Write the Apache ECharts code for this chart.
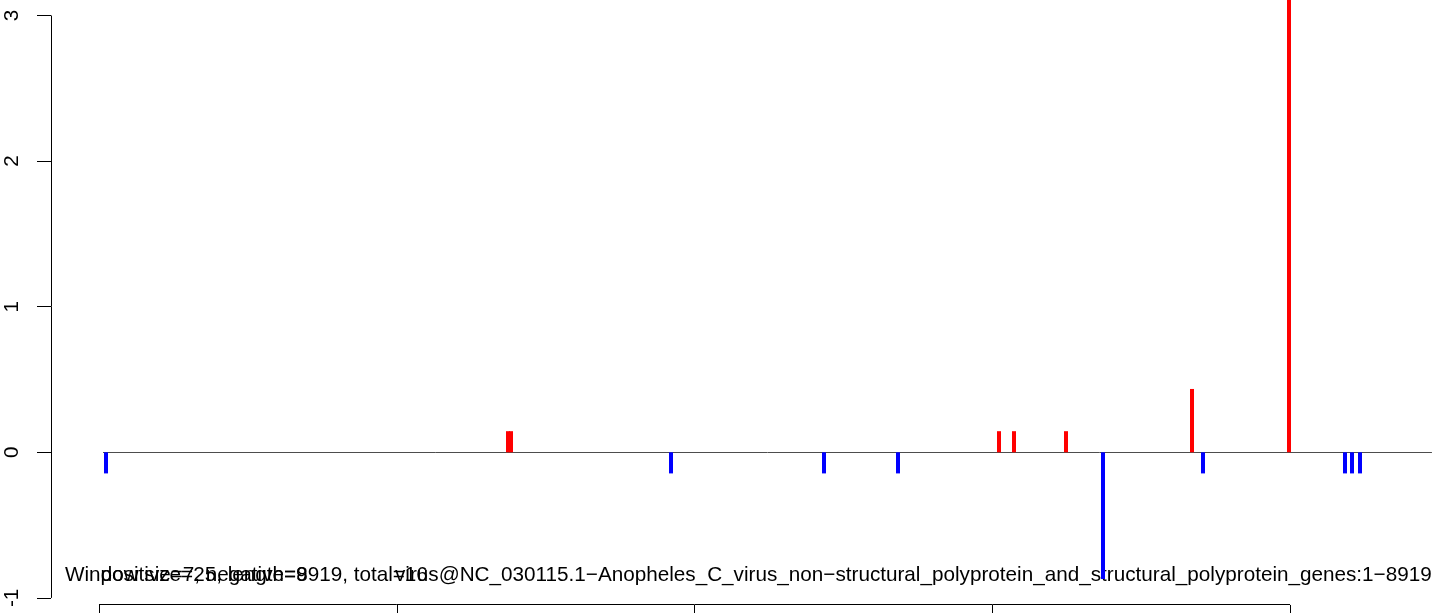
<!DOCTYPE html>
<html><head><meta charset="utf-8">
<script src="https://cdn.jsdelivr.net/npm/echarts@6/dist/echarts.min.js"></script>
<style>html,body{margin:0;padding:0;background:#fff}#c{width:1444px;height:613px}</style>
</head><body><div id="c"></div><script>
// ---- data ----
const posPositions = [2747, 2767, 6045, 6146, 6495, 7341, 7993];
const posValues    = [0.145, 0.145, 0.145, 0.145, 0.145, 0.435, 3.48];
const negPositions = [47, 3842, 4870, 5367, 6744, 7415, 8369, 8416, 8470];
const negValues    = [-0.145, -0.145, -0.145, -0.145, -0.87, -0.145, -0.145, -0.145, -0.145];
const yTicks = [-1, 0, 1, 2, 3];
const xTicks = [0, 2000, 4000, 6000, 8000];
const zeroLine = [27, 8953];
const infoWindow = "Window size=25, length=8919, total=16";
const infoCounts = "positive=7, negative=9";
const infoName = "virus@NC_030115.1\u2212Anopheles_C_virus_non\u2212structural_polyprotein_and_structural_polyprotein_genes:1\u22128919";

// ---- layout ----
const X_MIN = -322.4, X_MAX = 9034;
const Y_MIN = -1.0488, Y_MAX = 3.1065;
const FONT = 'Liberation Sans, Arial, Helvetica, sans-serif';
const FS = 20.7;
const TEXT_Y = 575;

const chart = echarts.init(document.getElementById('c'), null, {renderer: 'canvas'});

function barItem(color) {
  return function (params, api) {
    const x = api.value(0), y = api.value(1);
    const p0 = api.coord([x, 0]);
    const p1 = api.coord([x, y]);
    const left = Math.round(p0[0]) - 2;
    const top = Math.min(p0[1], p1[1]);
    return {
      type: 'rect',
      shape: {x: left, y: top, width: 4, height: Math.abs(p1[1] - p0[1])},
      style: {fill: color}
    };
  };
}

const option = {
  animation: false,
  backgroundColor: '#ffffff',
  grid: {left: 51, right: 0, top: 0, bottom: 8, containLabel: false},
  xAxis: {
    type: 'value', min: X_MIN, max: X_MAX,
    axisLine: {show: false, onZero: false},
    splitLine: {show: false},
    axisTick: {show: true, customValues: xTicks, length: 14, lineStyle: {color: '#000', width: 1}},
    axisLabel: {show: false}
  },
  yAxis: {
    type: 'value', min: Y_MIN, max: Y_MAX,
    axisLine: {show: false, onZero: false},
    splitLine: {show: false},
    axisTick: {show: true, customValues: yTicks, length: 14, lineStyle: {color: '#000', width: 1}},
    axisLabel: {show: true, customValues: yTicks, rotate: 90, margin: 28, color: '#000',
      fontSize: FS, fontFamily: FONT}
  },
  graphic: [
    {type: 'text', x: 65, y: TEXT_Y, style: {text: infoWindow, font: FS + 'px ' + FONT, fill: '#000', verticalAlign: 'middle', align: 'left'}},
    {type: 'text', x: 100.6, y: TEXT_Y, style: {text: infoCounts, font: FS + 'px ' + FONT, fill: '#000', verticalAlign: 'middle', align: 'left'}},
    {type: 'text', x: 395, y: TEXT_Y, style: {text: infoName, font: FS + 'px ' + FONT, fill: '#000', verticalAlign: 'middle', align: 'left'}}
  ],
  series: [
    {
      type: 'custom', name: 'axes', silent: true, clip: false, z: 1,
      data: [[0]],
      renderItem: function (params, api) {
        const a = api.coord([X_MIN, yTicks[0]]);
        const b = api.coord([X_MIN, yTicks[yTicks.length - 1]]);
        const c = api.coord([xTicks[0], Y_MIN]);
        const d = api.coord([xTicks[xTicks.length - 1], Y_MIN]);
        const z0 = api.coord([zeroLine[0], 0]);
        const z1 = api.coord([zeroLine[1], 0]);
        return {
          type: 'group',
          children: [
            {type: 'line', shape: {x1: Math.round(a[0]) + 0.5, y1: a[1], x2: Math.round(b[0]) + 0.5, y2: b[1]}, style: {stroke: '#000', lineWidth: 1}},
            {type: 'line', shape: {x1: c[0], y1: Math.round(c[1]) - 0.5, x2: d[0], y2: Math.round(d[1]) - 0.5}, style: {stroke: '#000', lineWidth: 1}},
            {type: 'line', shape: {x1: z0[0], y1: Math.round(z0[1]) + 0.5, x2: z1[0], y2: Math.round(z1[1]) + 0.5}, style: {stroke: '#4d4d4d', lineWidth: 1}}
          ]
        };
      }
    },
    {
      type: 'custom', name: 'positive', clip: true, z: 2,
      data: posPositions.map((p, i) => [p, posValues[i]]),
      renderItem: barItem('#ff0000')
    },
    {
      type: 'custom', name: 'negative', clip: true, z: 2,
      data: negPositions.map((p, i) => [p, negValues[i]]),
      renderItem: barItem('#0000ff')
    }
  ]
};
chart.setOption(option);
</script></body></html>
